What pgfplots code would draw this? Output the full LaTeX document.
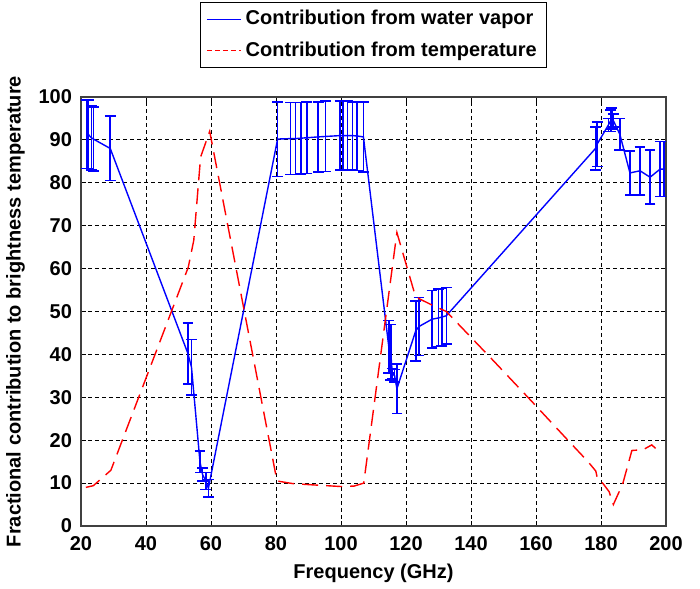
\documentclass[border=0pt]{standalone}
\usepackage{fontspec}
\setmainfont{Liberation Sans}
\usepackage{pgfplots}
\pgfplotsset{compat=1.18}
\usetikzlibrary{calc}
\pgfplotstableread{
x y e
21.7 91.3 8.0
22.2 91.3 8.0
23.2 90.5 7.5
23.8 90.2 7.4
29.0 88.0 7.5
52.9 40.2 7.1
54.0 37.0 6.5
56.6 15.0 2.5
57.4 12.0 1.5
58.4 10.5 2.0
59.2 8.8 2.0
80.5 90.2 8.7
84.5 90.3 8.4
86.0 90.3 8.4
87.7 90.4 8.3
89.5 90.5 8.3
93.0 90.7 8.2
95.2 90.8 8.2
99.7 91.0 8.0
100.7 91.0 8.0
102.0 91.0 8.0
103.5 91.0 7.9
105.0 90.9 8.0
106.9 90.7 8.2
114.7 41.8 6.1
115.3 40.5 6.5
115.8 35.5 1.2
116.5 35.0 1.5
117.2 32.0 5.8
123.0 45.5 7.0
124.0 46.5 6.8
128.0 48.2 6.7
130.0 48.5 6.7
131.0 48.7 6.7
132.4 49.0 6.6
178.3 88.0 5.0
178.8 89.0 5.2
182.3 93.5 1.5
183.0 94.5 2.5
183.3 95.0 2.4
183.8 94.5 1.5
185.8 91.3 3.7
188.9 82.3 5.1
192.0 82.8 5.6
195.1 81.3 6.3
198.2 83.2 6.4
199.4 83.2 6.4
}\vapor
\pgfplotstableread{
x y
21.5 9.0
23.8 9.4
29.2 13.0
53.0 60.3
54.7 66.6
56.8 86.0
59.6 92.0
80.3 10.5
85.0 9.9
91.0 9.6
100.0 9.2
104.0 9.3
107.0 10.0
117.2 68.4
122.8 53.8
124.0 53.0
128.0 51.5
132.4 50.0
146.8 38.6
158.5 29.2
169.8 20.0
176.0 15.0
178.4 12.8
179.0 10.7
180.5 10.0
182.5 8.0
183.8 5.0
185.6 8.0
186.6 9.6
189.5 17.6
193.0 17.8
195.6 18.9
196.8 18.1
}\temperature
\begin{document}
\begin{tikzpicture}
\begin{axis}[
  scale only axis, width=292.5pt, height=214.5pt,
  xmin=20, xmax=200, ymin=0, ymax=100,
  xtick={20,40,...,200}, ytick={0,10,...,100},
  tick align=inside, major tick length=2.5pt,
  tick style={black, line width=0.5pt},
  /pgf/number format/assume math mode=true,
  ticklabel style={font=\bfseries\fontsize{10}{12}\selectfont},
  xticklabel style={yshift=-1.5pt},
  yticklabel style={xshift=-1pt},
  grid=major,
  major grid style={black, line width=0.5pt, dash pattern=on 2pt off 1.5pt},
  axis line style={black!75, line width=0.6pt},
  xlabel={Frequency (GHz)},
  ylabel={Fractional contribution to brightness temperature},
  label style={font=\bfseries\fontsize{10}{12}\selectfont},
  legend style={at={(0.5,1)}, anchor=south, yshift=14.5pt, row sep=3pt,
    font=\bfseries\fontsize{10}{12}\selectfont, draw=black, line width=0.5pt},
  legend cell align=left,
]
\addplot[color={rgb,255:red,0;green,0;blue,255}, line width=0.7pt, mark=none,
  error bars/.cd, y dir=both, y explicit,
  error bar style={draw={rgb,255:red,0;green,0;blue,255}, line width=0.8pt, solid},
  error mark options={rotate=90, draw={rgb,255:red,0;green,0;blue,255}, mark size=2.7pt, line width=0.8pt}]
  table[x=x, y=y, y error=e] {\vapor};
\addlegendentry{Contribution from water vapor}
\addplot[red, line width=0.7pt, mark=none, dash pattern=on 8pt off 4pt,
  legend image post style={dash pattern=on 2.5pt off 1.5pt}]
  table[x=x, y=y] {\temperature};
\addlegendentry{Contribution from temperature}
\end{axis}
\pgfresetboundingbox
\path ($(current axis.south west)+(-40.5pt,-31pt)$) rectangle ($(current axis.south west)+(309.5pt,263pt)$);
\end{tikzpicture}
\end{document}
